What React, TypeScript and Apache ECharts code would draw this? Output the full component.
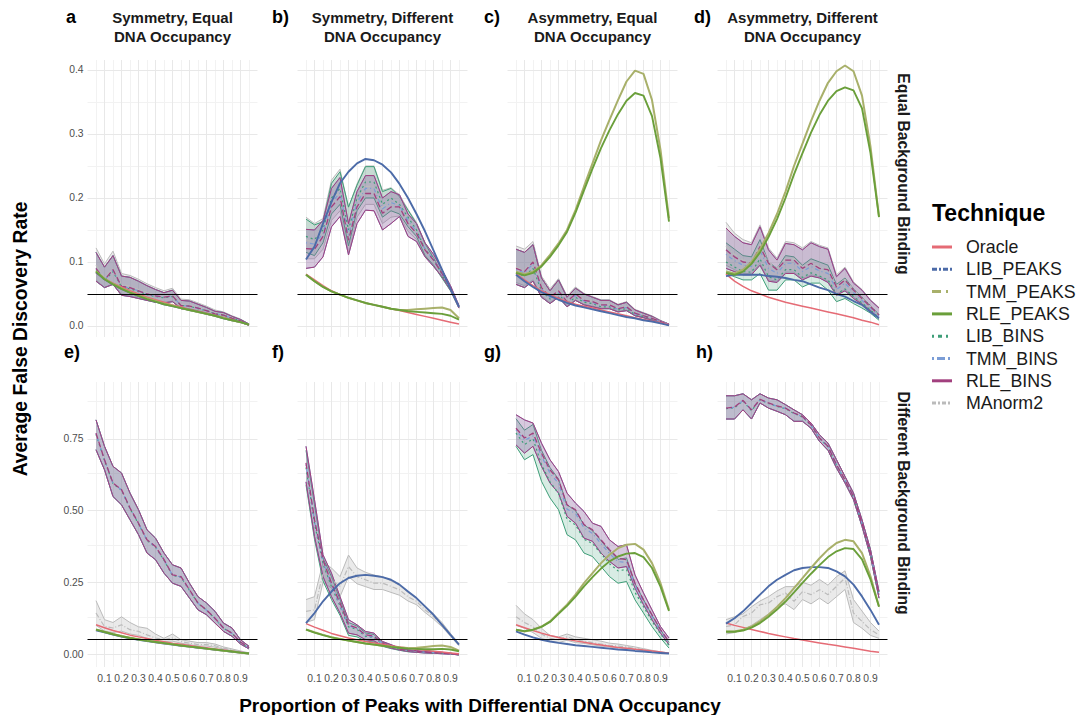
import React, { useEffect, useRef } from "react";
import * as echarts from "echarts";

// ---------- shared scales / labels ----------
const X = [0.05, 0.1, 0.15, 0.2, 0.25, 0.3, 0.35, 0.4, 0.45, 0.5, 0.55, 0.6, 0.65, 0.7, 0.75, 0.8, 0.85, 0.9, 0.95];
const X_MINOR = [0.05, 0.15, 0.25, 0.35, 0.45, 0.55, 0.65, 0.75, 0.85, 0.95];
const X_TICKS = [0.1, 0.2, 0.3, 0.4, 0.5, 0.6, 0.7, 0.8, 0.9];
const TOP_Y_TICKS = [0, 0.1, 0.2, 0.3, 0.4];
const TOP_Y_LABELS = ["0.0", "0.1", "0.2", "0.3", "0.4"];
const TOP_Y_MINOR = [0.05, 0.15, 0.25, 0.35];
const BOTTOM_Y_TICKS = [0, 0.25, 0.5, 0.75];
const BOTTOM_Y_LABELS = ["0.00", "0.25", "0.50", "0.75"];
const BOTTOM_Y_MINOR = [0.125, 0.375, 0.625, 0.875];
const FDR_THRESHOLD = 0.05;

const TECHNIQUES = ["Oracle", "LIB_PEAKS", "TMM_PEAKS", "RLE_PEAKS", "LIB_BINS", "TMM_BINS", "RLE_BINS", "MAnorm2"];
const COLORS = ["#E56B75", "#4C6BA8", "#A8B06A", "#6A9F3A", "#3E9E78", "#7B9DD6", "#A2407E", "#BBBBBB"];
// line styles in the panels
const DASHES: any[] = ["solid", "solid", "solid", "solid", [2, 3], [1, 3, 4, 3], [6, 3], [5, 2, 1, 2]];
const WIDTHS = [1.5, 1.9, 2, 1.9, 1.2, 1.2, 1.3, 1.2];
// line styles of the legend keys
const KEY_DASHES: any[] = [null, [5, 2, 2, 2], [9, 5, 2, 5], null, [2, 4, 4, 4], [2, 3, 8, 3], null, [4, 2, 2, 2]];

const COL_TITLES = ["Symmetry, Equal\nDNA Occupancy", "Symmetry, Different\nDNA Occupancy", "Asymmetry, Equal\nDNA Occupancy", "Asymmetry, Different\nDNA Occupancy"];
const PANEL_LETTERS = ["a", "b)", "c)", "d)", "e)", "f)", "g)", "h)"];
const ROW_LABELS = ["Equal Background Binding", "Different Background Binding"];
const Y_TITLE = "Average False Discovery Rate";
const X_TITLE = "Proportion of Peaks with Differential DNA Occupancy";
const LEGEND_TITLE = "Technique";

// ---------- panel a ----------
const A_ORACLE = [0.083, 0.074, 0.067, 0.061, 0.055, 0.05, 0.045, 0.041, 0.037, 0.033, 0.03, 0.026, 0.023, 0.02, 0.017, 0.013, 0.01, 0.006, 0.002];
const A_LIB_PEAKS = [0.084, 0.073, 0.065, 0.058, 0.052, 0.047, 0.042, 0.038, 0.034, 0.031, 0.028, 0.025, 0.022, 0.019, 0.016, 0.012, 0.009, 0.006, 0.002];
const A_TMM_PEAKS = [0.086, 0.074, 0.066, 0.059, 0.053, 0.048, 0.043, 0.039, 0.035, 0.032, 0.028, 0.025, 0.022, 0.019, 0.016, 0.013, 0.009, 0.006, 0.002];
const A_RLE_PEAKS = [0.085, 0.073, 0.065, 0.058, 0.052, 0.047, 0.042, 0.038, 0.034, 0.031, 0.028, 0.025, 0.022, 0.019, 0.016, 0.012, 0.009, 0.006, 0.002];
const A_LIB_BINS = [0.088, 0.071, 0.085, 0.061, 0.058, 0.054, 0.049, 0.046, 0.044, 0.046, 0.032, 0.031, 0.027, 0.024, 0.019, 0.017, 0.012, 0.008, 0.002];
const A_TMM_BINS = [0.09, 0.072, 0.087, 0.062, 0.059, 0.055, 0.05, 0.047, 0.045, 0.047, 0.032, 0.031, 0.028, 0.024, 0.019, 0.017, 0.012, 0.008, 0.002];
const A_RLE_BINS = [0.09, 0.072, 0.088, 0.062, 0.06, 0.055, 0.05, 0.047, 0.045, 0.047, 0.032, 0.031, 0.028, 0.024, 0.019, 0.017, 0.012, 0.008, 0.002];
const A_RLE_BINS_LO = [0.07, 0.06, 0.065, 0.048, 0.046, 0.043, 0.04, 0.037, 0.036, 0.038, 0.027, 0.026, 0.023, 0.02, 0.016, 0.013, 0.01, 0.006, 0.001];
const A_RLE_BINS_HI = [0.115, 0.092, 0.11, 0.078, 0.076, 0.07, 0.063, 0.057, 0.052, 0.056, 0.04, 0.039, 0.034, 0.029, 0.023, 0.021, 0.015, 0.01, 0.003];
const A_MANORM2 = [0.095, 0.075, 0.09, 0.065, 0.062, 0.057, 0.052, 0.049, 0.046, 0.048, 0.034, 0.033, 0.029, 0.025, 0.02, 0.018, 0.013, 0.008, 0.002];
const A_MANORM2_LO = [0.072, 0.06, 0.066, 0.05, 0.048, 0.045, 0.041, 0.038, 0.037, 0.039, 0.028, 0.027, 0.024, 0.021, 0.017, 0.014, 0.01, 0.006, 0.001];
const A_MANORM2_HI = [0.122, 0.097, 0.117, 0.082, 0.079, 0.073, 0.066, 0.06, 0.055, 0.059, 0.042, 0.041, 0.036, 0.031, 0.025, 0.022, 0.016, 0.011, 0.003];

// ---------- panel b ----------
const B_ORACLE = [0.081, 0.072, 0.063, 0.055, 0.049, 0.044, 0.04, 0.036, 0.033, 0.03, 0.027, 0.024, 0.021, 0.018, 0.015, 0.012, 0.009, 0.006, 0.003];
const B_LIB_PEAKS = [0.104, 0.124, 0.16, 0.194, 0.223, 0.241, 0.254, 0.261, 0.259, 0.252, 0.24, 0.222, 0.2, 0.175, 0.148, 0.118, 0.088, 0.058, 0.03];
const B_TMM_PEAKS = [0.08, 0.07, 0.061, 0.054, 0.049, 0.044, 0.04, 0.036, 0.033, 0.03, 0.027, 0.025, 0.025, 0.026, 0.027, 0.028, 0.029, 0.025, 0.012];
const B_RLE_PEAKS = [0.08, 0.07, 0.061, 0.054, 0.049, 0.044, 0.04, 0.036, 0.033, 0.03, 0.027, 0.025, 0.023, 0.022, 0.021, 0.02, 0.019, 0.016, 0.01];
const B_LIB_BINS = [0.14, 0.135, 0.15, 0.2, 0.215, 0.15, 0.2, 0.225, 0.225, 0.19, 0.2, 0.19, 0.17, 0.15, 0.12, 0.105, 0.08, 0.058, 0.03];
const B_LIB_BINS_LO = [0.115, 0.11, 0.13, 0.175, 0.19, 0.125, 0.18, 0.2, 0.2, 0.17, 0.18, 0.175, 0.155, 0.14, 0.11, 0.095, 0.075, 0.055, 0.028];
const B_LIB_BINS_HI = [0.167, 0.158, 0.163, 0.223, 0.241, 0.186, 0.22, 0.249, 0.249, 0.21, 0.215, 0.202, 0.181, 0.16, 0.129, 0.106, 0.082, 0.059, 0.03];
const B_TMM_BINS = [0.13, 0.128, 0.145, 0.193, 0.208, 0.142, 0.193, 0.215, 0.215, 0.183, 0.193, 0.188, 0.165, 0.148, 0.12, 0.104, 0.081, 0.059, 0.03];
const B_RLE_BINS = [0.121, 0.12, 0.14, 0.186, 0.202, 0.134, 0.186, 0.207, 0.207, 0.176, 0.186, 0.186, 0.16, 0.145, 0.119, 0.103, 0.082, 0.06, 0.03];
const B_RLE_BINS_LO = [0.09, 0.092, 0.108, 0.155, 0.171, 0.111, 0.16, 0.181, 0.18, 0.15, 0.16, 0.171, 0.14, 0.132, 0.108, 0.093, 0.077, 0.056, 0.028];
const B_RLE_BINS_HI = [0.151, 0.15, 0.165, 0.215, 0.232, 0.16, 0.21, 0.235, 0.235, 0.2, 0.21, 0.205, 0.175, 0.16, 0.13, 0.112, 0.088, 0.063, 0.032];
const B_MANORM2 = [0.135, 0.13, 0.148, 0.195, 0.21, 0.145, 0.195, 0.218, 0.218, 0.185, 0.193, 0.19, 0.165, 0.148, 0.12, 0.104, 0.081, 0.059, 0.03];
const B_MANORM2_LO = [0.105, 0.105, 0.12, 0.165, 0.18, 0.115, 0.17, 0.19, 0.19, 0.16, 0.17, 0.172, 0.148, 0.135, 0.11, 0.094, 0.075, 0.055, 0.028];
const B_MANORM2_HI = [0.17, 0.16, 0.168, 0.228, 0.245, 0.185, 0.222, 0.25, 0.25, 0.212, 0.216, 0.205, 0.182, 0.162, 0.13, 0.108, 0.084, 0.061, 0.031];

// ---------- panel c ----------
const C_ORACLE = [0.082, 0.072, 0.063, 0.055, 0.049, 0.043, 0.038, 0.034, 0.031, 0.028, 0.025, 0.022, 0.019, 0.016, 0.013, 0.01, 0.008, 0.005, 0.002];
const C_LIB_PEAKS = [0.08, 0.07, 0.061, 0.053, 0.047, 0.041, 0.036, 0.032, 0.029, 0.026, 0.023, 0.02, 0.017, 0.014, 0.012, 0.009, 0.007, 0.004, 0.001];
const C_TMM_PEAKS = [0.085, 0.081, 0.085, 0.095, 0.111, 0.129, 0.15, 0.181, 0.218, 0.254, 0.29, 0.322, 0.353, 0.382, 0.399, 0.394, 0.353, 0.275, 0.168];
const C_RLE_PEAKS = [0.083, 0.079, 0.083, 0.093, 0.108, 0.126, 0.147, 0.177, 0.212, 0.246, 0.278, 0.306, 0.331, 0.352, 0.364, 0.36, 0.328, 0.262, 0.163];
const C_LIB_BINS = [0.082, 0.078, 0.09, 0.055, 0.042, 0.05, 0.035, 0.045, 0.037, 0.035, 0.03, 0.03, 0.025, 0.027, 0.018, 0.015, 0.011, 0.006, 0.002];
const C_TMM_BINS = [0.088, 0.083, 0.097, 0.058, 0.044, 0.053, 0.037, 0.048, 0.039, 0.037, 0.032, 0.032, 0.026, 0.029, 0.019, 0.016, 0.012, 0.007, 0.002];
const C_RLE_BINS = [0.09, 0.085, 0.1, 0.06, 0.045, 0.055, 0.038, 0.05, 0.04, 0.038, 0.033, 0.033, 0.027, 0.03, 0.02, 0.016, 0.012, 0.007, 0.002];
const C_RLE_BINS_LO = [0.065, 0.06, 0.07, 0.045, 0.035, 0.045, 0.03, 0.04, 0.033, 0.03, 0.027, 0.027, 0.022, 0.024, 0.016, 0.013, 0.009, 0.005, 0.001];
const C_RLE_BINS_HI = [0.12, 0.115, 0.127, 0.075, 0.055, 0.072, 0.045, 0.059, 0.05, 0.045, 0.04, 0.04, 0.033, 0.037, 0.025, 0.02, 0.015, 0.008, 0.003];
const C_MANORM2 = [0.092, 0.087, 0.102, 0.062, 0.047, 0.056, 0.04, 0.051, 0.041, 0.039, 0.034, 0.034, 0.028, 0.031, 0.021, 0.017, 0.013, 0.007, 0.002];
const C_MANORM2_LO = [0.068, 0.063, 0.072, 0.047, 0.037, 0.046, 0.032, 0.041, 0.034, 0.031, 0.028, 0.028, 0.023, 0.025, 0.017, 0.014, 0.01, 0.005, 0.001];
const C_MANORM2_HI = [0.125, 0.12, 0.132, 0.078, 0.058, 0.074, 0.047, 0.061, 0.051, 0.046, 0.041, 0.041, 0.034, 0.038, 0.026, 0.021, 0.016, 0.009, 0.003];

// ---------- panel d ----------
const D_ORACLE = [0.081, 0.07, 0.062, 0.055, 0.05, 0.045, 0.041, 0.037, 0.034, 0.031, 0.028, 0.025, 0.022, 0.019, 0.016, 0.013, 0.009, 0.006, 0.002];
const D_LIB_PEAKS = [0.078, 0.08, 0.08, 0.08, 0.08, 0.078, 0.077, 0.075, 0.072, 0.07, 0.065, 0.06, 0.056, 0.05, 0.046, 0.039, 0.033, 0.022, 0.012];
const D_TMM_PEAKS = [0.085, 0.082, 0.088, 0.1, 0.12, 0.145, 0.175, 0.21, 0.25, 0.285, 0.32, 0.352, 0.38, 0.398, 0.407, 0.398, 0.36, 0.28, 0.171];
const D_RLE_PEAKS = [0.083, 0.08, 0.085, 0.097, 0.115, 0.139, 0.167, 0.2, 0.237, 0.27, 0.302, 0.33, 0.352, 0.367, 0.373, 0.368, 0.34, 0.27, 0.17];
const D_LIB_BINS = [0.1, 0.092, 0.085, 0.084, 0.105, 0.077, 0.072, 0.088, 0.088, 0.076, 0.083, 0.078, 0.072, 0.05, 0.058, 0.046, 0.036, 0.025, 0.013];
const D_LIB_BINS_LO = [0.082, 0.077, 0.072, 0.072, 0.082, 0.056, 0.056, 0.072, 0.072, 0.061, 0.067, 0.067, 0.056, 0.038, 0.043, 0.035, 0.028, 0.02, 0.009];
const D_LIB_BINS_HI = [0.13, 0.12, 0.11, 0.108, 0.135, 0.1, 0.09, 0.11, 0.108, 0.095, 0.105, 0.1, 0.095, 0.065, 0.075, 0.058, 0.045, 0.032, 0.018];
const D_TMM_BINS = [0.112, 0.102, 0.095, 0.093, 0.118, 0.09, 0.082, 0.098, 0.098, 0.085, 0.093, 0.086, 0.082, 0.057, 0.067, 0.052, 0.04, 0.028, 0.015];
const D_RLE_BINS = [0.119, 0.108, 0.1, 0.098, 0.124, 0.098, 0.088, 0.103, 0.103, 0.09, 0.098, 0.09, 0.088, 0.061, 0.072, 0.056, 0.043, 0.03, 0.017];
const D_RLE_BINS_LO = [0.09, 0.085, 0.08, 0.08, 0.095, 0.07, 0.068, 0.082, 0.082, 0.072, 0.078, 0.075, 0.068, 0.048, 0.055, 0.043, 0.034, 0.024, 0.012];
const D_RLE_BINS_HI = [0.153, 0.14, 0.13, 0.127, 0.155, 0.119, 0.103, 0.129, 0.127, 0.119, 0.13, 0.124, 0.12, 0.077, 0.09, 0.067, 0.056, 0.04, 0.028];
const D_MANORM2 = [0.125, 0.112, 0.103, 0.1, 0.128, 0.1, 0.09, 0.105, 0.105, 0.092, 0.1, 0.092, 0.09, 0.062, 0.073, 0.057, 0.044, 0.031, 0.017];
const D_MANORM2_LO = [0.095, 0.088, 0.082, 0.082, 0.098, 0.072, 0.07, 0.084, 0.084, 0.074, 0.08, 0.077, 0.07, 0.05, 0.057, 0.045, 0.035, 0.025, 0.012];
const D_MANORM2_HI = [0.162, 0.145, 0.135, 0.13, 0.158, 0.122, 0.106, 0.132, 0.13, 0.122, 0.132, 0.126, 0.122, 0.08, 0.092, 0.069, 0.057, 0.041, 0.029];

// ---------- panel e ----------
const E_ORACLE = [0.102, 0.092, 0.082, 0.074, 0.066, 0.06, 0.054, 0.048, 0.043, 0.038, 0.034, 0.03, 0.026, 0.022, 0.018, 0.014, 0.01, 0.006, 0.002];
const E_LIB_PEAKS = [0.083, 0.076, 0.068, 0.061, 0.055, 0.05, 0.045, 0.041, 0.037, 0.033, 0.029, 0.026, 0.022, 0.019, 0.015, 0.012, 0.008, 0.005, 0.002];
const E_TMM_PEAKS = [0.086, 0.078, 0.07, 0.063, 0.057, 0.052, 0.047, 0.042, 0.038, 0.034, 0.03, 0.026, 0.023, 0.019, 0.016, 0.012, 0.009, 0.005, 0.002];
const E_RLE_PEAKS = [0.085, 0.077, 0.069, 0.062, 0.056, 0.051, 0.046, 0.042, 0.038, 0.034, 0.03, 0.026, 0.023, 0.019, 0.016, 0.012, 0.009, 0.005, 0.002];
const E_LIB_BINS = [0.765, 0.675, 0.594, 0.571, 0.507, 0.454, 0.396, 0.373, 0.327, 0.274, 0.268, 0.222, 0.177, 0.153, 0.124, 0.09, 0.072, 0.041, 0.021];
const E_TMM_BINS = [0.768, 0.676, 0.595, 0.572, 0.508, 0.455, 0.397, 0.374, 0.328, 0.275, 0.269, 0.223, 0.177, 0.153, 0.124, 0.09, 0.072, 0.041, 0.021];
const E_RLE_BINS = [0.77, 0.677, 0.596, 0.573, 0.509, 0.456, 0.398, 0.375, 0.329, 0.276, 0.27, 0.224, 0.178, 0.154, 0.125, 0.091, 0.073, 0.042, 0.022];
const E_RLE_BINS_LO = [0.712, 0.642, 0.549, 0.52, 0.468, 0.416, 0.352, 0.329, 0.282, 0.247, 0.236, 0.195, 0.154, 0.137, 0.108, 0.079, 0.062, 0.035, 0.018];
const E_RLE_BINS_HI = [0.816, 0.724, 0.654, 0.631, 0.561, 0.503, 0.433, 0.404, 0.352, 0.311, 0.3, 0.247, 0.2, 0.178, 0.149, 0.108, 0.091, 0.05, 0.027];
const E_MANORM2 = [0.143, 0.096, 0.091, 0.102, 0.085, 0.079, 0.067, 0.056, 0.05, 0.056, 0.044, 0.038, 0.033, 0.033, 0.029, 0.021, 0.015, 0.009, 0.003];
const E_MANORM2_LO = [0.1, 0.08, 0.075, 0.08, 0.07, 0.065, 0.055, 0.045, 0.044, 0.045, 0.038, 0.033, 0.028, 0.028, 0.024, 0.018, 0.012, 0.007, 0.002];
const E_MANORM2_HI = [0.186, 0.12, 0.11, 0.13, 0.11, 0.095, 0.09, 0.07, 0.055, 0.07, 0.05, 0.045, 0.04, 0.04, 0.035, 0.025, 0.018, 0.011, 0.004];

// ---------- panel f ----------
const F_ORACLE = [0.106, 0.094, 0.083, 0.072, 0.064, 0.056, 0.05, 0.044, 0.039, 0.034, 0.029, 0.025, 0.021, 0.017, 0.013, 0.01, 0.007, 0.004, 0.001];
const F_LIB_PEAKS = [0.108, 0.143, 0.184, 0.218, 0.247, 0.265, 0.273, 0.276, 0.273, 0.268, 0.259, 0.242, 0.218, 0.195, 0.166, 0.137, 0.102, 0.067, 0.033];
const F_TMM_PEAKS = [0.086, 0.076, 0.067, 0.059, 0.053, 0.047, 0.042, 0.037, 0.033, 0.029, 0.026, 0.023, 0.021, 0.022, 0.025, 0.028, 0.03, 0.025, 0.012];
const F_RLE_PEAKS = [0.085, 0.075, 0.066, 0.058, 0.052, 0.047, 0.042, 0.037, 0.033, 0.029, 0.025, 0.022, 0.019, 0.018, 0.017, 0.017, 0.018, 0.016, 0.01];
const F_LIB_BINS = [0.65, 0.455, 0.315, 0.235, 0.168, 0.095, 0.086, 0.062, 0.058, 0.035, 0.025, 0.016, 0.011, 0.008, 0.006, 0.004, 0.003, 0.001, -0.002];
const F_LIB_BINS_LO = [0.59, 0.4, 0.255, 0.19, 0.135, 0.065, 0.06, 0.045, 0.042, 0.027, 0.019, 0.013, 0.008, 0.006, 0.004, 0.003, 0.002, 0.0, -0.003];
const F_LIB_BINS_HI = [0.71, 0.52, 0.335, 0.27, 0.19, 0.11, 0.098, 0.074, 0.068, 0.042, 0.031, 0.02, 0.014, 0.011, 0.008, 0.006, 0.005, 0.003, -0.001];
const F_TMM_BINS = [0.66, 0.462, 0.322, 0.242, 0.173, 0.099, 0.089, 0.065, 0.06, 0.037, 0.026, 0.017, 0.012, 0.009, 0.007, 0.005, 0.003, 0.001, -0.002];
const F_RLE_BINS = [0.666, 0.468, 0.329, 0.247, 0.178, 0.102, 0.091, 0.067, 0.062, 0.038, 0.027, 0.017, 0.012, 0.009, 0.007, 0.005, 0.003, 0.001, -0.002];
const F_RLE_BINS_LO = [0.6, 0.41, 0.27, 0.2, 0.143, 0.073, 0.067, 0.05, 0.046, 0.029, 0.021, 0.014, 0.009, 0.006, 0.004, 0.003, 0.001, 0.0, -0.003];
const F_RLE_BINS_HI = [0.724, 0.538, 0.346, 0.282, 0.2, 0.12, 0.102, 0.079, 0.073, 0.044, 0.033, 0.021, 0.015, 0.012, 0.009, 0.007, 0.006, 0.003, -0.001];
const F_MANORM2 = [0.149, 0.154, 0.282, 0.259, 0.236, 0.305, 0.27, 0.259, 0.247, 0.247, 0.236, 0.224, 0.2, 0.184, 0.154, 0.131, 0.102, 0.067, 0.033];
const F_MANORM2_LO = [0.11, 0.12, 0.25, 0.23, 0.2, 0.27, 0.245, 0.235, 0.225, 0.225, 0.215, 0.205, 0.185, 0.172, 0.145, 0.122, 0.095, 0.062, 0.029];
const F_MANORM2_HI = [0.19, 0.2, 0.32, 0.3, 0.27, 0.345, 0.3, 0.285, 0.275, 0.27, 0.255, 0.24, 0.215, 0.195, 0.165, 0.14, 0.11, 0.072, 0.037];

// ---------- panel g ----------
const G_ORACLE = [0.102, 0.092, 0.082, 0.073, 0.065, 0.058, 0.052, 0.046, 0.041, 0.036, 0.032, 0.027, 0.023, 0.02, 0.017, 0.014, 0.011, 0.007, 0.003];
const G_LIB_PEAKS = [0.079, 0.068, 0.058, 0.05, 0.044, 0.039, 0.035, 0.031, 0.028, 0.025, 0.022, 0.019, 0.016, 0.014, 0.011, 0.009, 0.006, 0.004, 0.002];
const G_TMM_PEAKS = [0.085, 0.079, 0.085, 0.096, 0.114, 0.143, 0.172, 0.207, 0.247, 0.282, 0.317, 0.346, 0.369, 0.381, 0.384, 0.364, 0.317, 0.247, 0.154];
const G_RLE_PEAKS = [0.085, 0.08, 0.085, 0.095, 0.112, 0.14, 0.168, 0.2, 0.236, 0.268, 0.298, 0.323, 0.34, 0.35, 0.352, 0.338, 0.3, 0.235, 0.15];
const G_LIB_BINS = [0.77, 0.73, 0.75, 0.66, 0.6, 0.56, 0.47, 0.45, 0.4, 0.385, 0.35, 0.315, 0.29, 0.295, 0.215, 0.165, 0.115, 0.07, 0.03];
const G_LIB_BINS_LO = [0.724, 0.677, 0.695, 0.602, 0.544, 0.503, 0.416, 0.398, 0.352, 0.34, 0.305, 0.27, 0.247, 0.253, 0.189, 0.143, 0.096, 0.056, 0.021];
const G_LIB_BINS_HI = [0.82, 0.78, 0.8, 0.71, 0.65, 0.61, 0.52, 0.5, 0.45, 0.43, 0.395, 0.36, 0.33, 0.335, 0.245, 0.19, 0.135, 0.085, 0.04];
const G_TMM_BINS = [0.78, 0.745, 0.76, 0.69, 0.63, 0.595, 0.505, 0.49, 0.44, 0.42, 0.385, 0.35, 0.322, 0.32, 0.238, 0.182, 0.13, 0.08, 0.04];
const G_RLE_BINS = [0.787, 0.753, 0.77, 0.7, 0.642, 0.607, 0.52, 0.503, 0.451, 0.433, 0.398, 0.364, 0.334, 0.329, 0.247, 0.189, 0.137, 0.085, 0.044];
const G_RLE_BINS_LO = [0.729, 0.7, 0.724, 0.654, 0.596, 0.561, 0.48, 0.456, 0.404, 0.393, 0.352, 0.323, 0.3, 0.305, 0.23, 0.172, 0.12, 0.073, 0.033];
const G_RLE_BINS_HI = [0.834, 0.816, 0.805, 0.735, 0.677, 0.636, 0.561, 0.526, 0.497, 0.456, 0.445, 0.398, 0.375, 0.381, 0.276, 0.213, 0.154, 0.096, 0.056];
const G_MANORM2 = [0.13, 0.11, 0.095, 0.07, 0.055, 0.05, 0.06, 0.05, 0.045, 0.04, 0.035, 0.03, 0.028, 0.025, 0.02, 0.015, 0.01, 0.006, 0.003];
const G_MANORM2_LO = [0.1, 0.09, 0.075, 0.055, 0.045, 0.04, 0.048, 0.04, 0.037, 0.032, 0.028, 0.024, 0.022, 0.02, 0.016, 0.012, 0.008, 0.004, 0.002];
const G_MANORM2_HI = [0.17, 0.14, 0.12, 0.09, 0.065, 0.06, 0.07, 0.06, 0.055, 0.05, 0.045, 0.038, 0.035, 0.03, 0.025, 0.019, 0.013, 0.008, 0.004];

// ---------- panel h ----------
const H_ORACLE = [0.108, 0.1, 0.093, 0.086, 0.079, 0.072, 0.066, 0.06, 0.054, 0.049, 0.044, 0.039, 0.034, 0.03, 0.025, 0.02, 0.015, 0.01, 0.006];
const H_LIB_PEAKS = [0.106, 0.125, 0.149, 0.178, 0.207, 0.236, 0.259, 0.276, 0.292, 0.3, 0.303, 0.303, 0.3, 0.288, 0.271, 0.242, 0.201, 0.154, 0.102];
const H_TMM_PEAKS = [0.079, 0.079, 0.085, 0.096, 0.114, 0.137, 0.164, 0.195, 0.23, 0.265, 0.3, 0.334, 0.364, 0.387, 0.398, 0.393, 0.352, 0.271, 0.166];
const H_RLE_PEAKS = [0.078, 0.078, 0.082, 0.092, 0.108, 0.13, 0.155, 0.183, 0.215, 0.248, 0.28, 0.31, 0.338, 0.358, 0.369, 0.366, 0.33, 0.26, 0.165];
const H_LIB_BINS = [0.855, 0.858, 0.882, 0.848, 0.886, 0.873, 0.863, 0.855, 0.838, 0.826, 0.797, 0.751, 0.722, 0.658, 0.605, 0.547, 0.454, 0.35, 0.205];
const H_TMM_BINS = [0.856, 0.86, 0.883, 0.85, 0.887, 0.874, 0.864, 0.856, 0.839, 0.827, 0.798, 0.752, 0.723, 0.659, 0.606, 0.548, 0.455, 0.351, 0.206];
const H_RLE_BINS = [0.857, 0.861, 0.884, 0.851, 0.888, 0.875, 0.865, 0.857, 0.84, 0.828, 0.799, 0.753, 0.724, 0.66, 0.607, 0.549, 0.456, 0.352, 0.207];
const H_RLE_BINS_LO = [0.819, 0.819, 0.851, 0.819, 0.875, 0.857, 0.846, 0.834, 0.811, 0.811, 0.787, 0.741, 0.71, 0.648, 0.596, 0.538, 0.445, 0.34, 0.195];
const H_RLE_BINS_HI = [0.9, 0.9, 0.907, 0.886, 0.907, 0.892, 0.886, 0.869, 0.851, 0.834, 0.805, 0.764, 0.735, 0.677, 0.619, 0.561, 0.468, 0.364, 0.218];
const H_MANORM2 = [0.096, 0.102, 0.131, 0.143, 0.172, 0.178, 0.2, 0.213, 0.184, 0.218, 0.207, 0.224, 0.207, 0.236, 0.265, 0.143, 0.114, 0.085, 0.067];
const H_MANORM2_LO = [0.07, 0.075, 0.085, 0.1, 0.12, 0.14, 0.165, 0.175, 0.155, 0.19, 0.175, 0.195, 0.175, 0.2, 0.225, 0.11, 0.09, 0.065, 0.055];
const H_MANORM2_HI = [0.12, 0.13, 0.14, 0.165, 0.185, 0.2, 0.22, 0.235, 0.235, 0.25, 0.24, 0.26, 0.24, 0.27, 0.29, 0.19, 0.15, 0.11, 0.08];

// ribbons: [technique index, lower, upper]
const PANELS = [
  { lines: [A_ORACLE, A_LIB_PEAKS, A_TMM_PEAKS, A_RLE_PEAKS, A_LIB_BINS, A_TMM_BINS, A_RLE_BINS, A_MANORM2],
    ribbons: [[7, A_MANORM2_LO, A_MANORM2_HI], [4, A_RLE_BINS_LO, A_RLE_BINS_HI], [5, A_RLE_BINS_LO, A_RLE_BINS_HI], [6, A_RLE_BINS_LO, A_RLE_BINS_HI]] },
  { lines: [B_ORACLE, B_LIB_PEAKS, B_TMM_PEAKS, B_RLE_PEAKS, B_LIB_BINS, B_TMM_BINS, B_RLE_BINS, B_MANORM2],
    ribbons: [[7, B_MANORM2_LO, B_MANORM2_HI], [4, B_LIB_BINS_LO, B_LIB_BINS_HI], [5, B_RLE_BINS_LO, B_RLE_BINS_HI], [6, B_RLE_BINS_LO, B_RLE_BINS_HI]] },
  { lines: [C_ORACLE, C_LIB_PEAKS, C_TMM_PEAKS, C_RLE_PEAKS, C_LIB_BINS, C_TMM_BINS, C_RLE_BINS, C_MANORM2],
    ribbons: [[7, C_MANORM2_LO, C_MANORM2_HI], [4, C_RLE_BINS_LO, C_RLE_BINS_HI], [5, C_RLE_BINS_LO, C_RLE_BINS_HI], [6, C_RLE_BINS_LO, C_RLE_BINS_HI]] },
  { lines: [D_ORACLE, D_LIB_PEAKS, D_TMM_PEAKS, D_RLE_PEAKS, D_LIB_BINS, D_TMM_BINS, D_RLE_BINS, D_MANORM2],
    ribbons: [[7, D_MANORM2_LO, D_MANORM2_HI], [4, D_LIB_BINS_LO, D_LIB_BINS_HI], [5, D_RLE_BINS_LO, D_RLE_BINS_HI], [6, D_RLE_BINS_LO, D_RLE_BINS_HI]] },
  { lines: [E_ORACLE, E_LIB_PEAKS, E_TMM_PEAKS, E_RLE_PEAKS, E_LIB_BINS, E_TMM_BINS, E_RLE_BINS, E_MANORM2],
    ribbons: [[7, E_MANORM2_LO, E_MANORM2_HI], [4, E_RLE_BINS_LO, E_RLE_BINS_HI], [5, E_RLE_BINS_LO, E_RLE_BINS_HI], [6, E_RLE_BINS_LO, E_RLE_BINS_HI]] },
  { lines: [F_ORACLE, F_LIB_PEAKS, F_TMM_PEAKS, F_RLE_PEAKS, F_LIB_BINS, F_TMM_BINS, F_RLE_BINS, F_MANORM2],
    ribbons: [[7, F_MANORM2_LO, F_MANORM2_HI], [4, F_LIB_BINS_LO, F_LIB_BINS_HI], [5, F_RLE_BINS_LO, F_RLE_BINS_HI], [6, F_RLE_BINS_LO, F_RLE_BINS_HI]] },
  { lines: [G_ORACLE, G_LIB_PEAKS, G_TMM_PEAKS, G_RLE_PEAKS, G_LIB_BINS, G_TMM_BINS, G_RLE_BINS, G_MANORM2],
    ribbons: [[7, G_MANORM2_LO, G_MANORM2_HI], [4, G_LIB_BINS_LO, G_LIB_BINS_HI], [5, G_RLE_BINS_LO, G_RLE_BINS_HI], [6, G_RLE_BINS_LO, G_RLE_BINS_HI]] },
  { lines: [H_ORACLE, H_LIB_PEAKS, H_TMM_PEAKS, H_RLE_PEAKS, H_LIB_BINS, H_TMM_BINS, H_RLE_BINS, H_MANORM2],
    ribbons: [[7, H_MANORM2_LO, H_MANORM2_HI], [4, H_RLE_BINS_LO, H_RLE_BINS_HI], [5, H_RLE_BINS_LO, H_RLE_BINS_HI], [6, H_RLE_BINS_LO, H_RLE_BINS_HI]] },
];

// ---------- layout ----------
const FONT = "'Liberation Sans', Arial, Helvetica, sans-serif";
const COL_LEFT = [87.5, 297.5, 507.5, 717.5];
const COL_WIDTH = 170;
const ROW_TOP = [60, 382];
const ROW_HEIGHT = [277, 285];
const ROW_YMIN = [-0.0172, -0.045];
const ROW_YMAX = [0.4156, 0.948];

function hexToRgba(hex: string, a: number) {
  const n = parseInt(hex.slice(1), 16);
  return `rgba(${(n >> 16) & 255},${(n >> 8) & 255},${n & 255},${a})`;
}

function buildOption() {
  const grid: any[] = [];
  const xAxis: any[] = [];
  const yAxis: any[] = [];
  const series: any[] = [];

  PANELS.forEach((pn, p) => {
    const row = p < 4 ? 0 : 1;
    const col = p % 4;
    grid.push({ left: COL_LEFT[col], top: ROW_TOP[row], width: COL_WIDTH, height: ROW_HEIGHT[row], containLabel: false });
    xAxis.push({
      type: "value", gridIndex: p, min: 0, max: 1, interval: 0.1,
      axisLine: { show: false }, axisTick: { show: false }, splitLine: { show: false },
      axisLabel: {
        show: row === 1, showMinLabel: false, showMaxLabel: false, margin: 6,
        color: "#4D4D4D", fontSize: 10.3, fontFamily: FONT,
        formatter: (v: number) => (X_TICKS.some((t) => Math.abs(t - v) < 1e-6) ? v.toFixed(1) : ""),
      },
    });
    yAxis.push({
      type: "value", gridIndex: p, min: ROW_YMIN[row], max: ROW_YMAX[row],
      axisLine: { show: false }, axisTick: { show: false }, splitLine: { show: false }, axisLabel: { show: false },
    });

    const majorY = row === 0 ? TOP_Y_TICKS : BOTTOM_Y_TICKS;
    const labelsY = row === 0 ? TOP_Y_LABELS : BOTTOM_Y_LABELS;
    const minorY = row === 0 ? TOP_Y_MINOR : BOTTOM_Y_MINOR;

    series.push({
      type: "line", xAxisIndex: p, yAxisIndex: p, data: [], silent: true, z: 0,
      markLine: {
        z: 0, silent: true, symbol: ["none", "none"], animation: false, label: { show: false },
        lineStyle: { color: "#F2F2F2", width: 1, type: "solid" },
        data: [...X_MINOR.map((v) => ({ xAxis: v })), ...minorY.map((v) => ({ yAxis: v }))],
      },
    });
    series.push({
      type: "line", xAxisIndex: p, yAxisIndex: p, data: [], silent: true, z: 0,
      markLine: {
        z: 0, silent: true, symbol: ["none", "none"], animation: false,
        lineStyle: { color: "#E8E8E8", width: 1, type: "solid" },
        data: [
          ...X_TICKS.map((v) => ({ xAxis: v, label: { show: false } })),
          ...majorY.map((v, i) => ({
            yAxis: v,
            label: {
              show: col === 0, position: "start", formatter: labelsY[i], distance: 4,
              color: "#4D4D4D", fontSize: 10.3, fontFamily: FONT,
            },
          })),
        ],
      },
    });

    pn.ribbons.forEach((rb: any) => {
      const [k, lo, hi] = rb;
      series.push({
        type: "custom", xAxisIndex: p, yAxisIndex: p, silent: true, z: 2,
        data: [[X[0], lo[0]]],
        renderItem: (_params: any, api: any) => {
          const loPts = X.map((x, i) => api.coord([x, lo[i]]));
          const hiPts = X.map((x, i) => api.coord([x, hi[i]]));
          return {
            type: "group",
            children: [
              { type: "polygon", shape: { points: loPts.concat(hiPts.slice().reverse()) }, style: { fill: hexToRgba(COLORS[k], k === 7 ? 0.3 : 0.2), stroke: "none" } },
              { type: "polyline", shape: { points: loPts }, style: { stroke: COLORS[k], lineWidth: 1, fill: "none" } },
              { type: "polyline", shape: { points: hiPts }, style: { stroke: COLORS[k], lineWidth: 1, fill: "none" } },
            ],
          };
        },
      });
    });

    const order = [7, 4, 5, 6, 0, 1, 2, 3];
    order.forEach((k) => {
      const arr = pn.lines[k];
      series.push({
        type: "line", name: TECHNIQUES[k], xAxisIndex: p, yAxisIndex: p, z: 3,
        data: X.map((x, i) => [x, arr[i]]),
        symbol: "none", silent: true,
        lineStyle: { color: COLORS[k], width: WIDTHS[k], type: DASHES[k] },
        itemStyle: { color: COLORS[k] },
      });
    });

    series.push({
      type: "line", xAxisIndex: p, yAxisIndex: p, data: [], silent: true, z: 10,
      markLine: {
        z: 10, silent: true, symbol: ["none", "none"], animation: false, label: { show: false },
        lineStyle: { color: "#000000", width: 1, type: "solid" },
        data: [{ yAxis: FDR_THRESHOLD }],
      },
    });
  });

  const graphic: any[] = [];
  COL_TITLES.forEach((t, c) => {
    graphic.push({
      type: "text", x: COL_LEFT[c] + COL_WIDTH / 2, y: 8, silent: true,
      style: { text: t, fill: "#1a1a1a", fontSize: 15, fontWeight: "bold", fontFamily: FONT, align: "center", verticalAlign: "top", lineHeight: 19 },
    });
  });
  const letterX = [66, 272, 484, 694, 64, 272, 484, 696];
  PANEL_LETTERS.forEach((t, i) => {
    graphic.push({
      type: "text", x: letterX[i], y: i < 4 ? 17 : 352, silent: true,
      style: { text: t, fill: "#000", fontSize: 18, fontWeight: "bold", fontFamily: FONT, align: "left", verticalAlign: "middle" },
    });
  });
  const rowCenter = [174, 503];
  ROW_LABELS.forEach((t, r) => {
    graphic.push({
      type: "text", x: 903, y: rowCenter[r], rotation: -Math.PI / 2, silent: true,
      style: { text: t, fill: "#1a1a1a", fontSize: 15.7, fontWeight: "bold", fontFamily: FONT, align: "center", verticalAlign: "middle" },
    });
  });
  graphic.push({
    type: "text", x: 20, y: 339, rotation: Math.PI / 2, silent: true,
    style: { text: Y_TITLE, fill: "#000", fontSize: 19.3, fontWeight: "bold", fontFamily: FONT, align: "center", verticalAlign: "middle" },
  });
  graphic.push({
    type: "text", x: 480, y: 705, silent: true,
    style: { text: X_TITLE, fill: "#000", fontSize: 19, fontWeight: "bold", fontFamily: FONT, align: "center", verticalAlign: "middle" },
  });
  graphic.push({
    type: "text", x: 932, y: 213, silent: true,
    style: { text: LEGEND_TITLE, fill: "#000", fontSize: 23, fontWeight: "bold", fontFamily: FONT, align: "left", verticalAlign: "middle" },
  });
  TECHNIQUES.forEach((name, k) => {
    const y = 247 + k * 22.3;
    graphic.push({
      type: "line", silent: true,
      shape: { x1: 932, y1: y, x2: 952, y2: y },
      style: { stroke: COLORS[k], lineWidth: 3, lineDash: KEY_DASHES[k] || undefined },
    });
    graphic.push({
      type: "text", x: 966, y, silent: true,
      style: { text: name, fill: "#1a1a1a", fontSize: 17.8, fontFamily: FONT, align: "left", verticalAlign: "middle" },
    });
  });

  return {
    animation: false,
    backgroundColor: "#ffffff",
    grid, xAxis, yAxis, series, graphic,
  };
}

export default function App() {
  const ref = useRef<HTMLDivElement>(null);
  useEffect(() => {
    if (!ref.current) return;
    const chart = echarts.init(ref.current, undefined, { renderer: "svg" });
    chart.setOption(buildOption() as any);
    return () => chart.dispose();
  }, []);
  return <div ref={ref} style={{ position: "fixed", left: 0, top: 0, width: 1081, height: 715, background: "#fff" }} />;
}
